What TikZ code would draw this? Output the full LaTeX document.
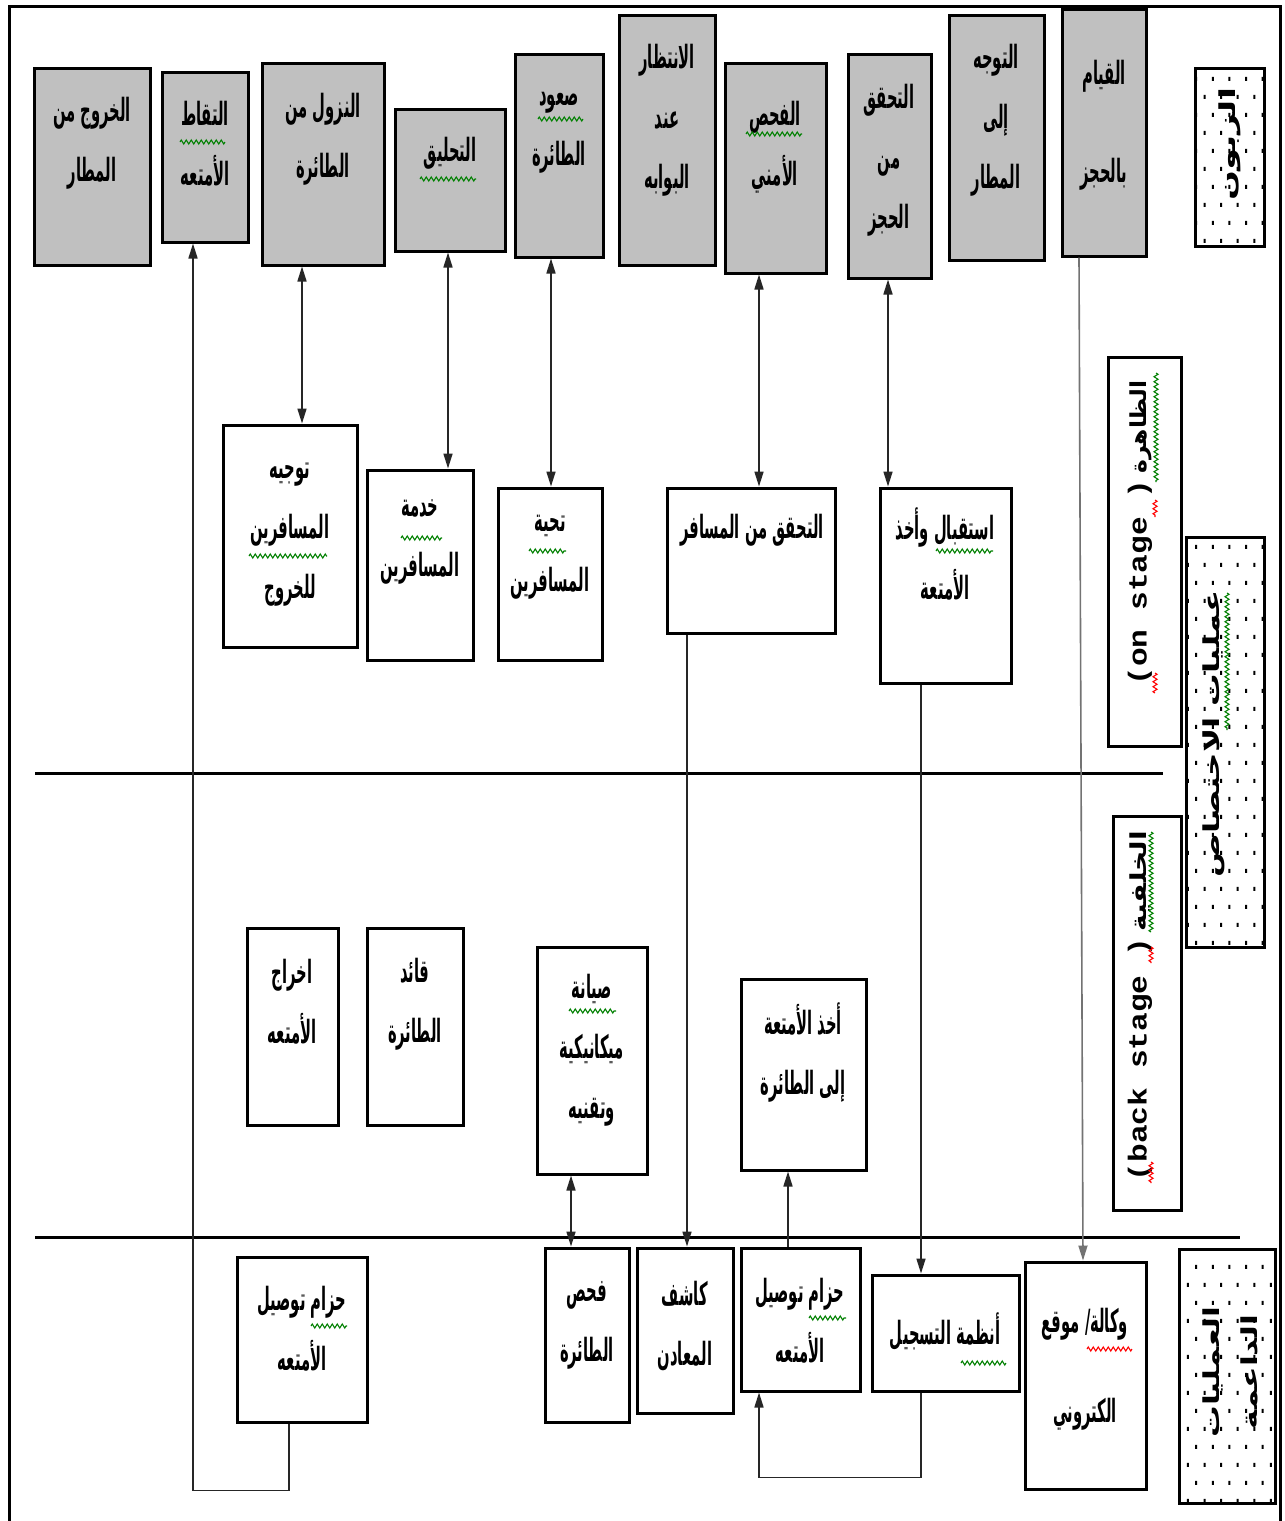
\documentclass[tikz,border=0pt]{standalone}
\usepackage{fontspec}
\usetikzlibrary{arrows.meta,fit,decorations.pathmorphing,patterns}
\TeXXeTstate=1
\newfontfamily\arabicfont[Script=Arabic,FakeStretch=0.46]{DejaVu Sans}
\newfontfamily\arabicrot[Script=Arabic,FakeStretch=0.8]{DejaVu Sans}
\newfontfamily\latinmono{Liberation Mono}
\newcommand\artxt[1]{\beginR #1\endR}
\newcommand\latinlabel[1]{\scalebox{1.2}[1]{\latinmono\bfseries\fontsize{26}{30}\selectfont #1}}

\definecolor{boxgray}{RGB}{192,192,192}
\definecolor{squiggreen}{RGB}{0,128,0}

% sparse staggered dots for the lane-title boxes
\pgfdeclarepatternformonly{sparsedots}{\pgfpoint{-1pt}{-1pt}}{\pgfpoint{18pt}{37pt}}{\pgfpoint{16.6pt}{36pt}}{%
  \pgfpathrectangle{\pgfpoint{0pt}{0pt}}{\pgfpoint{2pt}{4pt}}%
  \pgfpathrectangle{\pgfpoint{8.3pt}{18pt}}{\pgfpoint{2pt}{4pt}}%
  \pgfusepath{fill}}

\begin{document}
\begin{tikzpicture}[x=1pt,y=-1pt,
  gbox/.style={draw,line width=3pt,fill=boxgray,inner sep=0pt},
  wbox/.style={draw,line width=3pt,fill=white,inner sep=0pt},
  dbox/.style={draw,line width=3pt,pattern=sparsedots,inner sep=0pt},
  atxt/.style={align=center,inner sep=0pt,font=\arabicfont\bfseries\fontsize{32}{60}\selectfont},
  rtxt/.style={align=center,inner sep=0pt,rotate=90,font=\arabicrot\bfseries\fontsize{22}{38}\selectfont},
  conn/.style={line width=1.6pt,draw=black!85},
  onearr/.style={conn,-{Triangle[length=15pt,width=9pt]}},
  twoarr/.style={conn,{Triangle[length=15pt,width=9pt]}-{Triangle[length=15pt,width=9pt]}},
  squig/.style={draw=squiggreen,line width=1.1pt,decorate,decoration={zigzag,segment length=5pt,amplitude=2pt}},
  squigred/.style={squig,draw=red}]

\fill[white] (0,0) rectangle (1285,1521);
\useasboundingbox (0,0) rectangle (1285,1521);

% outer frame
\draw[line width=3pt] (9,1521) -- (9,6) -- (1280,6) -- (1280,1521);

% lane separators
\draw[line width=3pt] (35,773) -- (1163,773);
\draw[line width=3pt] (35,1237) -- (1240,1237);

% customer actions
\node[gbox,fit={(34,68)(150,265)}] (b1) {};
\node[gbox,fit={(162,72)(248,242)}] (b2) {};
\node[gbox,fit={(262,63)(384,265)}] (b3) {};
\node[gbox,fit={(395,109)(505,251)}] (b4) {};
\node[gbox,fit={(515,54)(603,257)}] (b5) {};
\node[gbox,fit={(619,15)(715,265)}] (b6) {};
\node[gbox,fit={(725,63)(826,273)}] (b7) {};
\node[gbox,fit={(848,54)(931,278)}] (b8) {};
\node[gbox,fit={(949,15)(1044,260)}] (b9) {};
\node[gbox,fit={(1062,9)(1146,256)}] (b10) {};

\node[atxt] (b1t) at (92,143) {\artxt{الخروج من}\\\artxt{المطار}};
\node[atxt] (b2t) at (205,144) {\artxt{التقاط}\\\artxt{الأمتعه}};
\node[atxt] (b3t) at (323,139) {\artxt{النزول من}\\\artxt{الطائرة}};
\node[atxt] (b4t) at (450,153) {\artxt{التحليق}};
\node[atxt] (b5t) at (559,133) {\artxt{صعود}\\\artxt{الطائرة}};
\node[atxt] (b6t) at (667,120) {\artxt{الانتظار}\\\artxt{عند}\\\artxt{البوابه}};
\node[atxt] (b7t) at (775,147) {\artxt{الفحص}\\\artxt{الأمني}};
\node[atxt] (b8t) at (889,160) {\artxt{التحقق}\\\artxt{من}\\\artxt{الحجز}};
\node[atxt] (b9t) at (996,120) {\artxt{التوجه}\\\artxt{إلى}\\\artxt{المطار}};
\node[atxt] (b10t) at (1104,125) {\artxt{القيام}\\[38pt]\artxt{بالحجز}};

% on-stage actions
\node[wbox,fit={(223,425)(357,647)}] (m1) {};
\node[wbox,fit={(367,470)(473,660)}] (m2) {};
\node[wbox,fit={(498,488)(602,660)}] (m3) {};
\node[wbox,fit={(667,488)(835,633)}] (m4) {};
\node[wbox,fit={(880,488)(1011,683)}] (m5) {};

\node[atxt] (m1t) at (290,535) {\artxt{توجيه}\\\artxt{المسافرين}\\\artxt{للخروج}};
\node[atxt] (m2t) at (420,542) {\artxt{خدمة}\\\artxt{المسافرين}};
\node[atxt] (m3t) at (550,557) {\artxt{تحية}\\\artxt{المسافرين}};
\node[atxt] (m4t) at (752,530) {\artxt{التحقق من المسافر}};
\node[atxt] (m5t) at (945,554) {\artxt{استقبال وأخذ}\\\artxt{الأمتعة}};

% back-stage actions
\node[wbox,fit={(247,928)(338,1125)}] (s1) {};
\node[wbox,fit={(367,928)(463,1125)}] (s2) {};
\node[wbox,fit={(537,947)(647,1174)}] (s3) {};
\node[wbox,fit={(741,979)(866,1170)}] (s4) {};

\node[atxt] (s1t) at (292,1002) {\artxt{اخراج}\\\artxt{الأمتعه}};
\node[atxt] (s2t) at (415,1004) {\artxt{قائد}\\\artxt{الطائرة}};
\node[atxt] (s3t) at (592,1050) {\artxt{صيانة}\\\artxt{ميكانيكية}\\\artxt{وتقنيه}};
\node[atxt] (s4t) at (803,1053) {\artxt{أخذ الأمتعة}\\\artxt{إلى الطائرة}};

% support processes
\node[wbox,fit={(237,1257)(367,1422)}] (p1) {};
\node[wbox,fit={(545,1248)(629,1422)}] (p2) {};
\node[wbox,fit={(637,1248)(733,1413)}] (p3) {};
\node[wbox,fit={(741,1248)(860,1391)}] (p4) {};
\node[wbox,fit={(872,1275)(1019,1391)}] (p5) {};
\node[wbox,fit={(1025,1262)(1146,1489)}] (p6) {};

\node[atxt] (p1t) at (302,1329) {\artxt{حزام توصيل}\\\artxt{الأمتعه}};
\node[atxt] (p2t) at (587,1325) {\artxt{فحص}\\\artxt{الطائرة}};
\node[atxt] (p3t) at (685,1326) {\artxt{كاشف}\\\artxt{المعادن}};
\node[atxt] (p4t) at (800,1321) {\artxt{حزام توصيل}\\\artxt{الأمتعه}};
\node[atxt] (p5t) at (945,1332) {\artxt{أنظمة التسجيل}};
\node[atxt] (p6t) at (1085,1369) {\artxt{وكالة/ موقع}\\[30pt]\artxt{الكتروني}};

% lane titles
\node[dbox,fit={(1195,68)(1264,246)}] (lz) {};
\node[wbox,fit={(1108,357)(1181,746)}] (os) {};
\node[dbox,fit={(1186,537)(1264,947)}] (mc) {};
\node[wbox,fit={(1113,816)(1181,1210)}] (bs) {};
\node[dbox,fit={(1179,1249)(1275,1503)}] (sp) {};

\node[rtxt] (lzt) at (1230,144) {\scalebox{2}[1]{\artxt{الزبون}}};
\node[rtxt] (ost) at (1140,533) {\latinlabel{(on stage )} \scalebox{1.33}[1]{\artxt{الظاهرة}}};
\node[rtxt] (mct) at (1214,734) {\scalebox{1.85}[1]{\artxt{عمليات الاختصاص}}};
\node[rtxt] (bst) at (1140,1006) {\latinlabel{(back stage )} \scalebox{1.6}[1]{\artxt{الخلفية}}};
\node[rtxt] (spt) at (1230,1372) {\scalebox{1.8}[1]{\artxt{العمليات}}\\\scalebox{1.8}[1]{\artxt{الداعمة}}};

% spelling marks
\draw[squig] (180,142) -- (225,142);
\draw[squig] (420,179) -- (476,179);
\draw[squig] (538,119) -- (583,119);
\draw[squig] (746,134) -- (802,134);
\draw[squig] (249,556) -- (327,556);
\draw[squig] (401,538) -- (442,538);
\draw[squig] (529,551) -- (566,551);
\draw[squig] (936,551) -- (993,551);
\draw[squig] (569,1011) -- (616,1011);
\draw[squig] (311,1326) -- (347,1326);
\draw[squig] (809,1318) -- (846,1318);
\draw[squig] (961,1363) -- (1006,1363);
\draw[squigred] (1087,1349) -- (1132,1349);
\draw[squig] (1156,373) -- (1156,482);
\draw[squigred] (1155,500) -- (1155,517);
\draw[squigred] (1155,673) -- (1155,693);
\draw[squig] (1227,593) -- (1227,730);
\draw[squig] (1151,832) -- (1151,932);
\draw[squigred] (1151,947) -- (1151,963);
\draw[squigred] (1151,1162) -- (1151,1183);

% connectors
\draw[twoarr] ([xshift=-21pt]b3.south) -- ([xshift=12pt]m1.north);
\draw[twoarr] ([xshift=-2pt]b4.south) -- ([xshift=28pt]m2.north);
\draw[twoarr] ([xshift=-8pt]b5.south) -- ([xshift=1pt]m3.north);
\draw[twoarr] ([xshift=-16.5pt]b7.south) -- ([xshift=8pt]m4.north);
\draw[twoarr] ([xshift=-1.5pt]b8.south) -- ([xshift=-57.5pt]m5.north);
\draw[onearr,draw=black!55] ([xshift=-25pt]b10.south) -- ([xshift=-2.5pt]p6.north);
\draw[onearr] ([xshift=-64pt]m4.south) -- ([xshift=2pt]p3.north);
\draw[onearr] ([xshift=-24.5pt]m5.south) -- ([xshift=-24.5pt]p5.north);
\draw[twoarr] ([xshift=-21pt]s3.south) -- ([xshift=-16pt]p2.north);
\draw[onearr] ([xshift=-12.5pt]p4.north) -- ([xshift=-15.5pt]s4.south);
\draw[onearr] ([xshift=-24.5pt]p5.south) -- ++(0,85) -| ([xshift=-41.5pt]p4.south);
\draw[onearr] ([xshift=-13pt]p1.south) -- ++(0,67) -| ([xshift=-12pt]b2.south);
\end{tikzpicture}
\end{document}
